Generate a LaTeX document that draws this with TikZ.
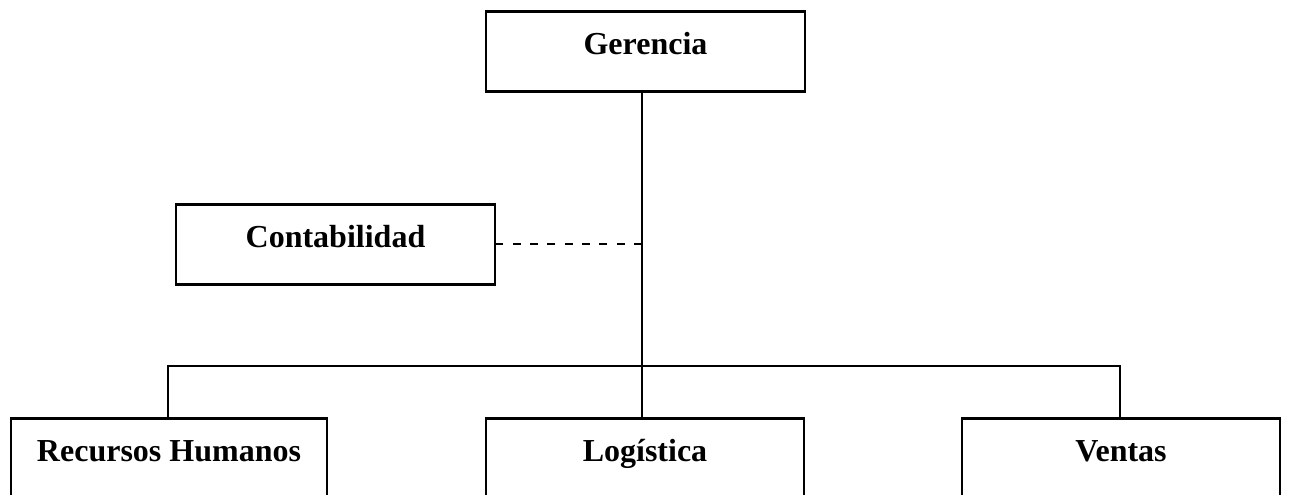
\documentclass[tikz,border=0pt]{standalone}
\usepackage{fontspec}
\setmainfont{Liberation Serif}
\begin{document}
\begin{tikzpicture}[
		x=0.75pt, y=-0.75pt,
		box/.style={draw, line width=2pt, rectangle, inner xsep=0pt, inner ysep=0pt,
			minimum width=#1*0.75pt, text height=32.25pt, text depth=27.75pt,
			anchor=north, font=\fontsize{24}{28}\selectfont\bfseries},
		box/.default=319,
		link/.style={line width=2pt},
		staff/.style={line width=1.3pt, dash pattern=on 6pt off 7pt}
	]
	\useasboundingbox (0,0) rectangle (1289,495);
	\clip (0,0) rectangle (1289,495);
	\node[box] (ger) at (645.5,10) {Gerencia};
	\node[box] (con) at (335.5,203) {Contabilidad};
	\node[box=316, text depth=53pt] (rh) at (169,417) {Recursos Humanos};
	\node[box=318, text depth=53pt] (log) at (645,417) {Logística};
	\node[box=318, text depth=53pt] (ven) at (1121,417) {Ventas};
	\coordinate (trunk) at (642,366);
	\draw[link] (ger.south -| trunk) -- (trunk) -- (log.north -| trunk);
	\draw[link] (rh.north -| 168,0) -- (168,366) -- (1120,366) -- (ven.north -| 1120,0);
	\draw[staff] (con.east -| trunk) -- (con.east);
\end{tikzpicture}
\end{document}
